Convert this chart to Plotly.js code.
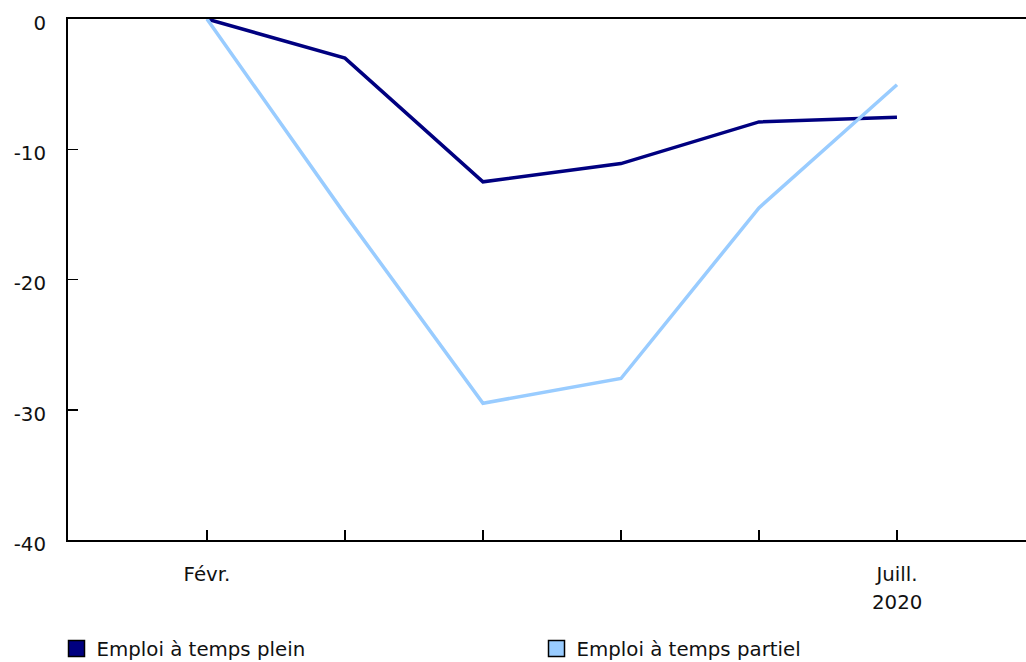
<!DOCTYPE html>
<html>
<head>
<meta charset="utf-8">
<script src="https://cdn.plot.ly/plotly-3.0.1.min.js"></script>
<style>html,body{margin:0;padding:0;background:#fff;}#chart{width:1026px;height:662px;}</style>
</head>
<body>
<div id="chart"></div>
<script>
// Data
const months = ["Févr.", "Mars", "Avr.", "Mai", "Juin", "Juill."];
const tickLabels = ["Févr.", "", "", "", "", "Juill."];
const yearLabel = "2020";
const yTickVals = [0, -10, -20, -30, -40];
const yTickText = ["0", "-10", "-20", "-30", "-40"];
const fullTime = [0, -3.0, -12.5, -11.1, -7.9, -7.55];
const partTime = [0, -15.0, -29.5, -27.6, -14.5, -5.05];
const seriesNames = ["Emploi à temps plein", "Emploi à temps partiel"];
const colors = ["#000080", "#99CCFF"];

const xIdx = months.map((m, i) => i);
const font = {family: "DejaVu Sans, Verdana, sans-serif", size: 19.8, color: "#111"};

const traces = [];
[fullTime, partTime].forEach((vals, k) => {
  traces.push({
    x: xIdx, y: vals, type: "scatter", mode: "lines",
    line: {color: colors[k], width: 3.5},
    name: seriesNames[k], showlegend: false,
    text: months, hovertemplate: "%{text}: %{y}<extra></extra>"
  });
});
[0, 1].forEach(k => {
  traces.push({
    x: [null], y: [null], type: "scatter", mode: "markers",
    marker: {symbol: "square", size: 20, color: colors[k], line: {color: "#000", width: 1.5}},
    name: seriesNames[k], showlegend: true
  });
});

const layout = {
  width: 1026, height: 662,
  margin: {l: 68, r: 0, t: 19, b: 122, autoexpand: false},
  paper_bgcolor: "#fff", plot_bgcolor: "#fff",
  font: font,
  showlegend: true,
  legend: {
    orientation: "h", x: -0.012, xanchor: "left", y: -0.171, yanchor: "top",
    font: font, entrywidth: 435, entrywidthmode: "pixels",
    bgcolor: "rgba(0,0,0,0)", traceorder: "normal"
  },
  xaxis: {
    range: [-1.007, 5.935],
    tickmode: "array", tickvals: xIdx, ticktext: tickLabels,
    ticks: "inside", ticklen: 10, tickwidth: 1.5, tickcolor: "#000",
    showline: true, linecolor: "#000", linewidth: 2, mirror: true,
    showgrid: false, zeroline: false,
    ticklabelstandoff: 15,
    tickfont: font
  },
  yaxis: {
    range: [-40, 0],
    tickmode: "array", tickvals: yTickVals, ticktext: yTickText,
    ticks: "inside", ticklen: 10, tickwidth: 1.5, tickcolor: "#000",
    showline: true, linecolor: "#000", linewidth: 2,
    showgrid: false, zeroline: false,
    ticklabelstandoff: 16, ticklabelshift: 4,
    tickfont: font
  },
  annotations: [{
    x: xIdx[xIdx.length - 1], xref: "x", y: -0.12, yref: "paper",
    text: yearLabel, showarrow: false, font: font, yanchor: "middle"
  }]
};

Plotly.newPlot("chart", traces, layout, {displayModeBar: false, staticPlot: true});
</script>
</body>
</html>
